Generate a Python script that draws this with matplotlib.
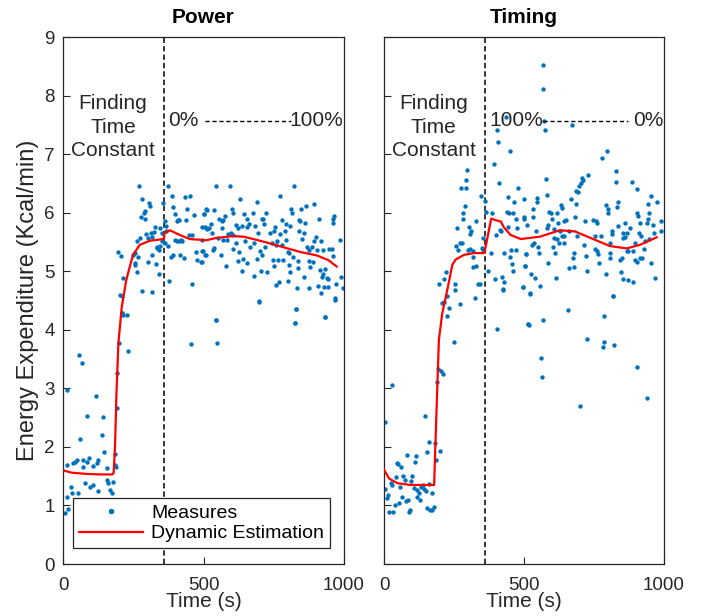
import matplotlib
matplotlib.use("Agg")
import matplotlib.pyplot as plt
from matplotlib.lines import Line2D

plt.rcParams['font.family'] = ['Liberation Sans', 'DejaVu Sans']

# Power condition: measured points (time s, Kcal/min)
power_pts = [
    (7, 0.87), (19, 0.94), (15, 1.14), (13, 1.69), (15, 2.97), (31, 1.21), (27, 1.32),
    (37, 1.72), (43, 1.74), (49, 1.78), (58, 3.57), (67, 3.44), (60, 2.13), (55, 1.21),
    (70, 1.78), (70, 1.65), (78, 1.38), (84, 2.53), (87, 1.74), (94, 1.81), (96, 1.32),
    (105, 1.35), (108, 1.67), (117, 2.87), (120, 1.72), (126, 1.78), (126, 1.25),
    (138, 2.20), (143, 2.51), (147, 1.91), (155, 1.43), (161, 1.38), (167, 1.26),
    (173, 1.21), (177, 1.40), (155, 1.64), (185, 1.88), (185, 1.69), (189, 1.66),
    (193, 2.67), (196, 0.99), (193, 3.27), (200, 3.78), (209, 4.28), (227, 4.25), (230, 3.64),
    (456, 3.75), (547, 3.77), (545, 4.16), (699, 4.48), (828, 4.35), (826, 4.12),
    (933, 4.22), (968, 4.51),
    (270, 6.46), (282, 6.23), (306, 6.16), (311, 6.11), (291, 6.03), (288, 6.00),
    (276, 5.92), (291, 5.89), (356, 6.16), (375, 6.46), (388, 6.29), (391, 6.09),
    (399, 5.98), (433, 6.27), (453, 6.29), (441, 6.06), (465, 5.96), (409, 5.88),
    (406, 5.86), (411, 5.87), (439, 5.88), (501, 5.97), (510, 6.06), (362, 5.85),
    (326, 5.75), (344, 5.73), (297, 5.64), (314, 5.66), (323, 5.67), (275, 5.56),
    (263, 5.52), (302, 5.56), (316, 5.59), (353, 5.65), (368, 5.68), (368, 5.77),
    (353, 5.51), (336, 5.42), (344, 5.43), (342, 5.36), (362, 5.49), (374, 5.43),
    (397, 5.53), (406, 5.52), (411, 5.51), (420, 5.53), (423, 5.51), (448, 5.62),
    (460, 5.62), (496, 5.75), (508, 5.74), (385, 5.25), (392, 5.28), (415, 5.28),
    (429, 5.22), (474, 5.33), (477, 5.19), (492, 5.15), (496, 5.34), (506, 5.28),
    (197, 5.33), (207, 5.26), (249, 5.28), (255, 5.31), (268, 5.24), (255, 5.14),
    (257, 5.10), (263, 4.98), (302, 5.15), (317, 5.27), (332, 5.12), (342, 4.96),
    (335, 5.39), (214, 4.88), (280, 4.67), (318, 4.65), (377, 4.83), (458, 4.79),
    (204, 4.59), (209, 4.57), (210, 4.28), (215, 4.26),
    (543, 6.46), (594, 6.46), (823, 6.46), (772, 6.28), (630, 6.23), (689, 6.18),
    (502, 5.97), (514, 6.05), (537, 6.05), (556, 5.89), (565, 5.86), (571, 5.88),
    (576, 5.95), (603, 6.06), (604, 5.99), (644, 5.97), (654, 5.90), (675, 6.00),
    (722, 6.00), (707, 5.89), (713, 5.89), (779, 5.88), (811, 6.06), (814, 5.99),
    (846, 6.06), (865, 6.11), (894, 6.14), (911, 5.90), (839, 5.88), (843, 5.86),
    (861, 5.83), (793, 5.80), (808, 5.78), (960, 5.90), (966, 5.95), (960, 5.82),
    (505, 5.76), (514, 5.72), (521, 5.73), (529, 5.65), (525, 5.80), (567, 5.73),
    (614, 5.79), (624, 5.74), (636, 5.77), (654, 5.75), (663, 5.81), (683, 5.77),
    (716, 5.80), (754, 5.75), (751, 5.68), (790, 5.68), (841, 5.69), (859, 5.65),
    (586, 5.64), (597, 5.65), (606, 5.62), (695, 5.65), (737, 5.65), (772, 5.63),
    (899, 5.59), (849, 5.55), (493, 5.54), (553, 5.56), (571, 5.53), (585, 5.53),
    (616, 5.49), (648, 5.52), (681, 5.48), (742, 5.49), (763, 5.52), (793, 5.54),
    (894, 5.51), (918, 5.52), (986, 5.53), (497, 5.35), (508, 5.28), (532, 5.36),
    (538, 5.40), (561, 5.27), (606, 5.38), (627, 5.33), (665, 5.42), (701, 5.35),
    (719, 5.41), (758, 5.45), (778, 5.45), (799, 5.33), (805, 5.32), (820, 5.24),
    (869, 5.42), (874, 5.36), (885, 5.41), (905, 5.36), (926, 5.36), (948, 5.38),
    (956, 5.38), (962, 5.26), (493, 5.15), (580, 5.09), (624, 5.17), (642, 5.21),
    (654, 5.14), (691, 5.21), (707, 5.28), (746, 5.20), (764, 5.20), (749, 5.09),
    (784, 5.20), (805, 5.11), (835, 5.17), (875, 5.17), (879, 5.08), (891, 5.15),
    (636, 5.01), (680, 4.92), (703, 5.01), (725, 4.98), (808, 4.99), (835, 5.05),
    (858, 4.91), (914, 5.02), (932, 5.03), (920, 4.91), (926, 4.95), (938, 4.88),
    (943, 4.86), (989, 4.90), (758, 4.76), (767, 4.82), (802, 4.84), (876, 4.71),
    (906, 4.75), (929, 4.73), (942, 4.73), (917, 4.63), (971, 4.79), (995, 4.71),
    (831, 4.72), (969, 4.54), (697, 4.49), (829, 4.35), (932, 4.22), (825, 4.11),
    (544, 4.16),
]

# Timing condition: measured points
timing_pts = [
    (434, 7.64), (405, 7.42), (408, 7.21), (450, 7.06), (393, 6.83), (411, 6.50),
    (298, 6.73), (292, 6.56), (276, 6.42), (294, 6.42), (345, 6.29), (443, 6.26),
    (480, 6.43), (464, 6.19), (288, 6.12), (359, 6.20), (283, 5.99), (281, 5.90),
    (327, 5.85), (259, 5.73), (305, 5.75), (312, 5.68), (307, 5.63), (386, 5.99),
    (363, 6.02), (440, 6.02), (446, 5.99), (462, 5.99), (470, 5.90), (443, 5.76),
    (476, 5.73), (500, 5.90), (414, 5.70), (419, 5.68), (401, 5.62), (271, 5.48),
    (278, 5.48), (256, 5.43), (264, 5.36), (300, 5.36), (307, 5.38), (317, 5.34),
    (319, 5.25), (327, 5.09), (319, 5.07), (355, 5.56), (351, 5.39), (355, 5.36),
    (381, 5.31), (428, 5.31), (455, 5.36), (470, 5.36), (450, 5.25), (456, 5.12),
    (461, 5.01), (506, 5.30), (502, 5.09), (370, 5.00), (220, 4.99), (214, 4.87),
    (196, 4.78), (253, 4.79), (252, 4.68), (226, 4.58), (336, 4.79), (342, 4.79),
    (324, 4.55), (395, 4.86), (422, 4.91), (428, 4.82), (426, 4.69), (495, 4.73),
    (567, 8.52), (569, 8.12), (571, 7.56), (575, 7.42), (670, 7.50), (795, 7.05),
    (780, 6.93), (827, 6.71), (828, 6.53), (577, 6.57), (708, 6.60), (712, 6.55),
    (730, 6.64), (703, 6.50), (698, 6.46), (694, 6.36), (884, 6.52), (905, 6.40),
    (953, 6.29), (974, 6.18), (500, 6.23), (545, 6.25), (548, 6.19), (581, 6.31),
    (686, 6.37), (667, 6.23), (686, 6.15), (793, 6.13), (799, 6.06), (801, 5.99),
    (837, 6.19), (831, 6.10), (942, 6.14), (947, 5.99), (944, 5.90), (902, 5.99),
    (908, 5.94), (533, 6.06), (500, 5.92), (533, 5.92), (589, 6.02), (595, 5.99),
    (632, 6.13), (634, 6.08), (619, 6.00), (643, 5.85), (649, 5.88), (682, 5.93),
    (718, 5.86), (745, 5.87), (762, 5.83), (757, 5.85), (861, 5.83), (914, 5.83),
    (941, 5.82), (962, 5.79), (991, 5.85), (512, 5.79), (587, 5.79), (599, 5.89),
    (620, 5.83), (581, 5.73), (543, 5.68), (608, 5.72), (628, 5.68), (662, 5.68),
    (813, 5.68), (834, 5.77), (852, 5.65), (867, 5.65), (878, 5.74), (912, 5.66),
    (918, 5.60), (965, 5.66), (991, 5.68), (607, 5.56), (617, 5.55), (634, 5.60),
    (644, 5.60), (690, 5.60), (753, 5.60), (774, 5.60), (813, 5.64), (855, 5.56),
    (862, 5.59), (947, 5.55), (527, 5.45), (536, 5.48), (551, 5.42), (626, 5.48),
    (643, 5.49), (602, 5.41), (715, 5.44), (807, 5.49), (896, 5.48), (888, 5.35),
    (867, 5.34), (872, 5.35), (932, 5.51), (928, 5.38), (507, 5.30), (554, 5.31),
    (611, 5.32), (678, 5.31), (721, 5.26), (753, 5.38), (759, 5.35), (765, 5.30),
    (807, 5.31), (843, 5.19), (849, 5.22), (676, 5.22), (768, 5.14), (807, 5.22),
    (896, 5.20), (916, 5.22), (922, 5.22), (905, 5.15), (952, 5.14), (587, 5.14),
    (504, 5.09), (662, 5.05), (678, 5.08), (724, 5.01), (793, 4.96), (846, 4.98),
    (524, 4.95), (539, 4.88), (613, 4.88), (852, 4.86), (870, 4.85), (890, 4.82),
    (968, 4.89), (557, 4.74), (495, 4.73), (521, 4.62), (817, 4.58),
    (208, 4.45), (214, 4.48), (232, 4.38), (224, 4.24), (273, 4.44), (250, 3.79),
    (193, 3.33), (202, 3.29), (212, 3.25), (190, 3.11), (29, 3.05), (5, 2.43),
    (145, 2.53), (161, 2.09), (152, 1.92), (182, 2.06), (200, 1.93), (187, 1.77),
    (81, 1.87), (113, 1.85), (109, 1.75), (45, 1.73), (51, 1.71), (62, 1.66),
    (42, 1.48), (69, 1.51), (74, 1.44), (101, 1.50), (98, 1.42), (24, 1.38),
    (30, 1.35), (57, 1.32), (4, 1.28), (14, 1.18), (10, 1.12), (65, 1.15), (86, 1.10),
    (77, 1.07), (54, 1.04), (38, 1.00), (18, 0.88), (33, 0.89), (93, 0.93), (89, 0.88),
    (107, 1.30), (119, 1.26), (125, 1.22), (133, 1.32), (143, 1.28), (149, 1.25),
    (117, 1.15), (129, 1.09), (140, 1.35), (161, 1.36), (173, 1.21), (155, 0.95),
    (163, 0.92), (173, 0.93), (179, 0.97), (402, 4.01), (514, 4.10), (426, 4.68),
    (521, 4.61), (817, 4.58), (658, 4.34), (787, 4.24), (515, 4.10), (519, 4.08),
    (567, 4.16), (726, 3.84), (786, 3.80), (783, 3.70), (822, 3.74), (559, 3.51),
    (563, 3.19), (905, 3.36), (939, 2.83), (700, 2.69),
]

# dynamic estimation curves
power_fit_t = [0, 30, 80, 130, 175, 180, 185, 190, 197, 209, 225, 249, 273, 308, 359,
               361, 380, 415, 451, 510, 547, 606, 642, 677, 725, 784, 843, 903, 944, 974]
power_fit_v = [1.60, 1.56, 1.54, 1.53, 1.53, 1.55, 2.00, 2.90, 3.77, 4.39, 4.85, 5.28, 5.45,
               5.52, 5.55, 5.65, 5.70, 5.62, 5.55, 5.53, 5.57, 5.60, 5.59, 5.55, 5.49, 5.41,
               5.33, 5.27, 5.19, 5.08]
timing_fit_t = [0, 18, 48, 95, 179, 184, 190, 196, 208, 226, 244, 256, 286, 321, 359,
                363, 383, 400, 417, 428, 452, 488, 557, 628, 682, 747, 807, 867, 914, 974]
timing_fit_v = [1.61, 1.46, 1.38, 1.35, 1.35, 2.10, 2.97, 3.83, 4.28, 4.68, 5.11, 5.20, 5.28,
                5.31, 5.31, 5.42, 5.90, 5.87, 5.85, 5.75, 5.62, 5.55, 5.59, 5.70, 5.68, 5.55,
                5.43, 5.39, 5.45, 5.58]

switch_time = 360
panels = ["Power", "Timing"]
ramp_labels = [("0%", "100%"), ("100%", "0%")]

blue = "#0072BD"
dark = "#262626"

fig = plt.figure(figsize=(7.01, 6.16), dpi=100)
ax1 = fig.add_axes([0.0899, 0.0844, 0.4009, 0.8555])
ax2 = fig.add_axes([0.5478, 0.0844, 0.3994, 0.8555])

data = [(power_pts, power_fit_t, power_fit_v), (timing_pts, timing_fit_t, timing_fit_v)]

for i, ax in enumerate([ax1, ax2]):
    pts, ft, fv = data[i]
    ax.scatter([p[0] for p in pts], [p[1] for p in pts], s=10, color=blue,
               linewidths=0, label="Measures", zorder=2)
    ax.plot(ft, fv, color="red", lw=1.6, label="Dynamic Estimation", zorder=3)
    ax.axvline(switch_time, color="black", ls=(0, (3.5, 2)), lw=1.1, zorder=1)

    ax.set_xlim(0, 1000)
    ax.set_ylim(0, 9)
    ax.set_xticks([0, 500, 1000])
    ax.set_yticks(range(10))
    ax.tick_params(direction="in", length=5, width=0.8, colors=dark, labelsize=13.5,
                   top=False, right=False)
    ax.tick_params(axis="x", pad=9)
    ax.tick_params(axis="y", pad=6)
    for sp in ax.spines.values():
        sp.set_color(dark)
        sp.set_linewidth(0.9)
    ax.set_title(panels[i], fontsize=15, fontweight="bold", pad=10)
    ax.set_xlabel("Time (s)", fontsize=15, color=dark, labelpad=-1)

    ax.text(178, 7.46, "Finding\nTime\nConstant", ha="center", va="center",
            fontsize=15, color=dark, linespacing=1.3)
    left_lab, right_lab = ramp_labels[i]
    ax.text(375, 7.57, left_lab, ha="left", va="center", fontsize=15, color=dark)
    ax.text(998, 7.57, right_lab, ha="right", va="center", fontsize=15, color=dark)

ax2.set_yticklabels([])
ax1.set_ylabel("Energy Expenditure (Kcal/min)", fontsize=17, color=dark, labelpad=4)

# dashed connector between ramp labels
ax1.plot([505, 810], [7.57, 7.57], color="black", ls=(0, (3, 2)), lw=1.0)
ax2.plot([568, 872], [7.57, 7.57], color="black", ls=(0, (3, 2)), lw=1.0)

handles = [Line2D([], [], ls="none", marker=".", markersize=6, color=blue),
           Line2D([], [], color="red", lw=1.6)]
leg = ax1.legend(handles, ["Measures", "Dynamic Estimation"], loc="lower left",
                 bbox_to_anchor=(0.037, 0.03), fontsize=14, frameon=True, fancybox=False,
                 edgecolor=dark, framealpha=1, handlelength=3.3, handletextpad=0.4,
                 borderpad=0.3, labelspacing=0.15, borderaxespad=0)
leg.get_frame().set_linewidth(0.9)

fig.savefig("out.png", dpi=100)
